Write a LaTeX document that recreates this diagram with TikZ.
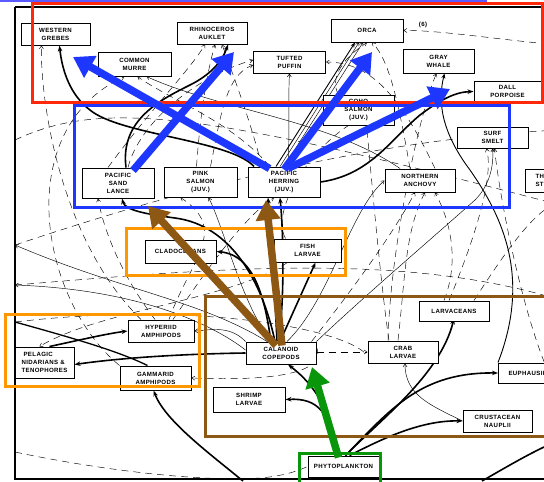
\documentclass[tikz,border=0pt]{standalone}
\usepackage{fontspec}
\setmainfont{Liberation Sans}
\newfontfamily\boxfont[LetterSpace=6]{Liberation Sans}
\usetikzlibrary{arrows.meta,backgrounds}
\definecolor{ovblue}{RGB}{30,55,255}
\definecolor{ovred}{RGB}{255,40,10}
\definecolor{ovorange}{RGB}{255,152,0}
\definecolor{ovbrown}{RGB}{140,88,20}
\definecolor{ovgreen}{RGB}{10,150,10}
\definecolor{topblue}{RGB}{90,90,255}
\begin{document}
\begin{tikzpicture}[x=1pt,y=-1pt,
  box/.style={draw, line width=1pt, fill=white, align=center, inner sep=1pt,
    font=\boxfont\bfseries\fontsize{6.1}{8}\selectfont},
  thk/.style={line width=1.6pt, -{Stealth[length=6pt,width=4.5pt]}},
  med/.style={line width=0.9pt, -{Stealth[length=5pt,width=4pt]}},
  thn/.style={line width=0.45pt, -{Straight Barb[length=3pt,width=4pt]}},
  dsh/.style={line width=0.45pt, dash pattern=on 7pt off 5pt, -{Straight Barb[length=3pt,width=4pt]}},
  dshn/.style={line width=0.45pt, dash pattern=on 7pt off 5pt},
  big/.style={line width=7.5pt, -{Triangle[length=20pt,width=24pt]}},
  ov/.style={line width=3pt}]
\useasboundingbox (0,0) rectangle (544,482);
\clip (0,0) rectangle (544,482);

% free-end coordinates
\coordinate (e6) at (560,45);
\coordinate (gsrc) at (243,481);
\coordinate (brsrc) at (482,481);
\coordinate (brdst) at (560,440);
\coordinate (lft1) at (15,322);
\coordinate (lft2) at (15,452);
\coordinate (lft3) at (15,245);
\coordinate (lft4) at (15,140);
\coordinate (lft5) at (15,285);
\coordinate (rgt1) at (560,205);
\coordinate (rgt2) at (560,300);
\coordinate (rgt3) at (560,130);

% ---------------- nodes -----------------
\node[box, minimum width=69, minimum height=22] (grebes) at (55.5,34) {WESTERN\\GREBES};
\node[box, minimum width=70, minimum height=22] (auklet) at (212,33) {RHINOCEROS\\AUKLET};
\node[box, minimum width=73, minimum height=24] (murre) at (134.5,64) {COMMON\\MURRE};
\node[box, minimum width=72, minimum height=22] (puffin) at (289.5,62) {TUFTED\\PUFFIN};
\node[box, minimum width=72, minimum height=23] (orca) at (367,30.5) {ORCA};
\node[box, minimum width=71, minimum height=24] (gwhale) at (438.5,61) {GRAY\\WHALE};
\node[box, minimum width=67, minimum height=21] (dall) at (507.5,91.5) {DALL\\PORPOISE};
\node[box, minimum width=71, minimum height=30] (coho) at (358.5,110) {COHO\\SALMON\\(JUV.)};
\node[box, minimum width=71, minimum height=21] (smelt) at (492.5,137.5) {SURF\\SMELT};
\node[box, minimum width=70, minimum height=23] (anchovy) at (420,180.5) {NORTHERN\\ANCHOVY};
\node[box, minimum width=72, minimum height=30] (herring) at (284,182) {PACIFIC\\HERRING\\(JUV.)};
\node[box, minimum width=73, minimum height=30] (pink) at (200.5,182) {PINK\\SALMON\\(JUV.)};
\node[box, minimum width=72, minimum height=30] (sandlance) at (118,183) {PACIFIC\\SAND\\LANCE};
\node[box, anchor=west, align=left, inner xsep=10pt, minimum height=23] (stickle) at (525,180.5) {THREESPINE\\STICKLEBACK};
\node[box, minimum width=71, minimum height=23] (clado) at (180.5,251.5) {CLADOCERANS};
\node[box, minimum width=67, minimum height=23] (fishl) at (307.5,250.5) {FISH\\LARVAE};
\node[box, minimum width=66, minimum height=22] (hyper) at (161,331) {HYPERIID\\AMPHIPODS};
\node[box, align=left, minimum width=59, minimum height=31] (pelagic) at (44.5,362.5) {\ PELAGIC\\NIDARIANS \&\\TENOPHORES};
\node[box, minimum width=71, minimum height=24] (gamm) at (155.5,378) {GAMMARID\\AMPHIPODS};
\node[box, minimum width=70, minimum height=22] (calan) at (281,353) {CALANOID\\COPEPODS};
\node[box, minimum width=70, minimum height=22] (crab) at (403,352) {CRAB\\LARVAE};
\node[box, minimum width=70, minimum height=20] (larv) at (454,311) {LARVACEANS};
\node[box, minimum width=72, minimum height=25] (shrimp) at (249,399.5) {SHRIMP\\LARVAE};
\node[box, anchor=west, inner xsep=10pt, minimum height=20] (euph) at (498,373) {EUPHAUSIIDS};
\node[box, minimum width=69, minimum height=22] (naup) at (497.5,421) {CRUSTACEAN\\NAUPLII};
\node[box, minimum width=71, minimum height=21] (phyto) at (343.5,466.5) {PHYTOPLANKTON};

\node[font=\boxfont\bfseries\fontsize{6.1}{7}\selectfont] (six) at (423,25) {(6)};

% ---------------- connectors (behind boxes) -----------------
\begin{pgfonlayer}{background}
\fill[white] (0,0) rectangle (544,482);
\draw[line width=1.1pt] (15,7) -- (600,7) (15,7) -- (15,479) -- (600,479);

% thick solid
\draw[thk] ([xshift=-4]phyto.north) .. controls (330,410) and (315,385) .. ([xshift=7]calan.south);
\draw[thk] ([xshift=-6]phyto.north) .. controls (330,412) and (318,398) .. (shrimp.east);
\draw[thk] ([xshift=2]phyto.north) .. controls (380,420) and (440,375) .. ([yshift=3]larv.south);
\draw[thk] ([xshift=2]phyto.north) .. controls (390,410) and (420,372) .. (euph.west);
\draw[thk] ([xshift=6]phyto.north) .. controls (380,440) and (420,420) .. (naup.west);
\draw[thk] (gsrc) .. controls (205,450) and (165,420) .. ([xshift=-2]gamm.south);
\draw[line width=1.6pt] (brsrc) .. controls (510,465) and (535,450) .. (brdst);
\draw[thk] (calan.west) .. controls (180,354) and (120,358) .. ([yshift=-2]pelagic.east);
\draw[thk] ([xshift=5]pelagic.north) .. controls (80,340) and (105,334) .. (hyper.west);
\draw[line width=1.3pt] (lft1) .. controls (80,340) and (120,352) .. ([xshift=-8]gamm.north);
\draw[thk] ([xshift=-10]calan.north) .. controls (265,300) and (255,255) .. (clado.east);
\draw[thk] ([xshift=-1]calan.north) -- ([xshift=8]fishl.south);
\draw[thk] ([xshift=-6]calan.north) .. controls (262,280) and (230,225) .. (175,218) .. controls (145,214) and (125,210) .. ([xshift=4]sandlance.south);
\draw[thk] ([xshift=-4]calan.north) .. controls (275,300) and (272,240) .. ([xshift=-16]herring.south);
\draw[thk] ([xshift=-2]calan.north) .. controls (284,300) and (284,240) .. ([xshift=-4]herring.south);
\draw[thk] ([xshift=-30]herring.north) .. controls (230,140) and (120,135) .. (90,110) .. controls (70,95) and (62,70) .. ([xshift=4]grebes.south);
\draw[thk] ([xshift=8]sandlance.north) .. controls (120,120) and (160,100) .. (190,85) .. controls (210,75) and (222,62) .. ([xshift=16]auklet.south);
\draw[med] ([xshift=-8]herring.north) -- ([xshift=-12]orca.south);
\draw[thk] (herring.east) .. controls (370,175) and (390,140) .. (420,115) .. controls (440,100) and (455,92) .. (dall.west);
\draw[med] (euph.north west) .. controls (530,280) and (505,220) .. (470,170) .. controls (440,130) and (438,100) .. ([xshift=6]gwhale.south);

% thin solid
\draw[thn] ([xshift=-4]herring.north) -- ([xshift=-8]orca.south);
\draw[thn] ([xshift=0]herring.north) -- ([xshift=-4]orca.south);
\draw[thn] ([xshift=4]herring.north) .. controls (290,120) and (288,100) .. ([xshift=0]puffin.south);
\draw[thn] ([xshift=-20]anchovy.north) .. controls (330,120) and (220,110) .. ([xshift=12]murre.south);
\draw[thn] (calan.north east) .. controls (360,300) and (430,240) .. (475,200) .. controls (490,185) and (494,165) .. ([xshift=0]smelt.south);
\draw[thn] ([xshift=6]calan.north) .. controls (330,300) and (350,210) .. (anchovy.west);
\draw[thn] ([xshift=-10]calan.north) .. controls (240,300) and (225,230) .. ([xshift=8]pink.south);
\draw[thn] (calan.north west) .. controls (230,325) and (210,330) .. (hyper.east);
\draw[thn] ([yshift=3]calan.west) .. controls (220,330) and (150,290) .. (lft5);
\draw[thn] ([xshift=-14]calan.north) .. controls (200,300) and (120,290) .. (lft3);
\draw[thn] (naup.west) .. controls (430,405) and (405,395) .. ([xshift=2]crab.south);

% dashed
\draw[dsh] (e6) .. controls (500,40) and (440,30) .. (orca.east);
\draw[dsh] ([xshift=-10]sandlance.north) .. controls (150,110) and (190,70) .. ([xshift=-7]auklet.south);
\draw[dsh] ([xshift=-4]pink.north) .. controls (200,120) and (205,80) .. ([xshift=3]auklet.south);
\draw[dsh] ([xshift=-22]herring.north) .. controls (250,120) and (235,80) .. ([xshift=10]auklet.south);
\draw[dsh] ([xshift=10]sandlance.north) .. controls (140,120) and (200,75) .. ([yshift=2]puffin.west);
\draw[dsh] ([xshift=10]pink.north) .. controls (220,120) and (225,75) .. ([yshift=-3]puffin.west);
\draw[dsh] ([xshift=-14]herring.north) .. controls (230,120) and (170,100) .. ([xshift=3]murre.south);
\draw[dsh] ([xshift=-20]coho.north) .. controls (330,80) and (340,60) .. ([xshift=0]orca.south);
\draw[dsh] ([xshift=-10]anchovy.north) .. controls (400,110) and (390,60) .. ([xshift=5]orca.south);
\draw[dsh] ([xshift=15]anchovy.north) .. controls (400,95) and (370,62) .. (puffin.east);
\draw[dsh] ([xshift=-15]crab.north) .. controls (390,250) and (420,110) .. ([xshift=-2]gwhale.south);
\draw[dsh] ([xshift=-5]larv.north) .. controls (470,250) and (495,180) .. ([xshift=-6]smelt.south);
\draw[dsh] ([xshift=-20]euph.north east) .. controls (520,300) and (500,200) .. ([xshift=2]smelt.south);
\draw[dsh] ([xshift=-5]calan.north east) .. controls (360,280) and (395,230) .. ([xshift=-5]anchovy.south);
\draw[dsh] ([xshift=-5]crab.north) .. controls (405,280) and (405,230) .. ([xshift=5]anchovy.south);
\draw[dsh] ([xshift=-10]larv.north) .. controls (460,260) and (450,220) .. ([xshift=15]anchovy.south);
\draw[dsh] ([yshift=1]calan.east) -- (crab.west);
\draw[dsh] ([yshift=6]calan.east) .. controls (330,380) and (240,380) .. (gamm.east);
\draw[dsh] ([xshift=-20]fishl.south) .. controls (230,300) and (100,310) .. ([xshift=-5]pelagic.north);
\draw[dsh] ([xshift=-6]hyper.north) .. controls (110,260) and (100,210) .. ([xshift=-20]sandlance.south);
\draw[dsh] ([xshift=12]hyper.north) .. controls (200,280) and (240,220) .. ([xshift=-10]herring.south);
\draw[dsh] ([xshift=8]hyper.north) .. controls (190,260) and (230,230) .. ([xshift=-20]pink.south);
\draw[dsh] (gamm.north west) .. controls (40,300) and (10,130) .. ([xshift=-10]murre.south);
\draw[dsh] ([xshift=-20]hyper.north) .. controls (60,240) and (40,100) .. ([xshift=-14]grebes.south);
\draw[dshn] (lft2) .. controls (100,470) and (200,482) .. (260,478) .. controls (285,476) and (300,470) .. (phyto.west);
\draw[dshn] (lft4) .. controls (100,100) and (200,110) .. (rgt1);
\draw[dshn] (lft3) .. controls (150,200) and (350,140) .. (rgt3);
\draw[dshn] (lft5) .. controls (200,270) and (400,250) .. (rgt2);
\draw[dshn] (lft1) .. controls (200,300) and (350,330) .. ([yshift=-4]crab.west);
\draw[dshn] ([xshift=-14]crab.north) .. controls (380,280) and (370,160) .. ([xshift=8]coho.south);
\draw[dshn] ([xshift=-22]fishl.north) .. controls (270,210) and (310,150) .. ([xshift=-10]coho.south);
\draw[dshn] ([xshift=20]larv.north) .. controls (500,260) and (540,200) .. (rgt1);
\end{pgfonlayer}

% ---------------- colored overlays -----------------
\draw[topblue, line width=2pt] (0,1) -- (487,1);
\draw[ovred, ov] (32,3) rectangle (542,102);
\draw[ovblue, ov] (74,105) rectangle (509,207);
\draw[ovorange, ov] (126,228) rectangle (345,275);
\draw[ovorange, ov] (5,314) rectangle (199,386);
\draw[ovbrown, ov] (205,296) rectangle (560,436);
\draw[ovgreen, ov] (299,453) rectangle (380,490);

\draw[ovblue, big] ([xshift=15,yshift=-3]sandlance.north) -- (234,52);
\draw[ovblue, big] ([xshift=22,yshift=-2]herring.north west) -- (73,57);
\draw[ovblue, big] ([xshift=0,yshift=-3]herring.north) -- (372,52);
\draw[ovblue, big] ([xshift=4,yshift=-2]herring.north) -- (450,89);
\draw[ovbrown, big] ([xshift=-5,yshift=-4]calan.north) -- (148,206);
\draw[ovbrown, big] ([xshift=1,yshift=-4]calan.north) -- (266,200);
\draw[ovgreen, big] ([xshift=-5,yshift=-2]phyto.north) -- (312,367);
\end{tikzpicture}
\end{document}
